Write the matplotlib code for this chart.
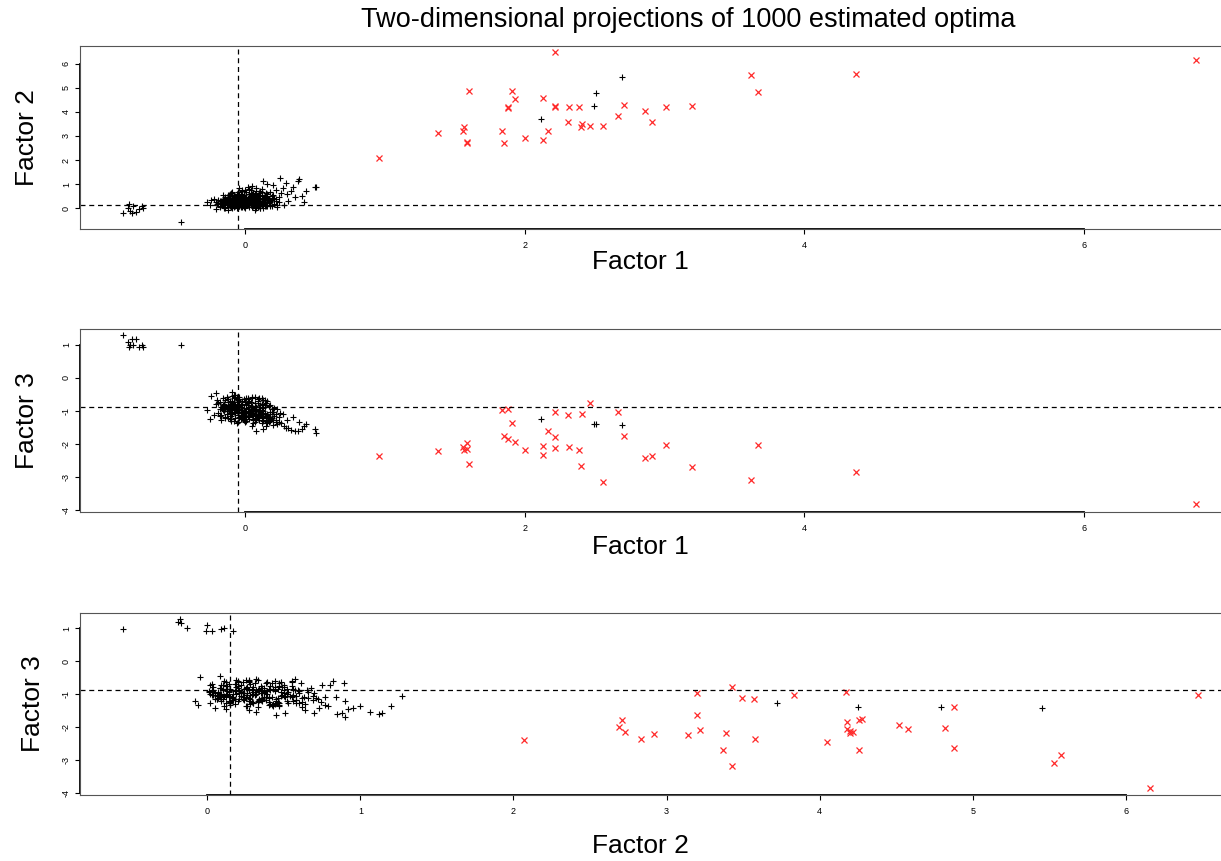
import numpy as np
import matplotlib
matplotlib.use("Agg")
import matplotlib.pyplot as plt

plt.rcParams['font.family'] = ['Liberation Sans', 'DejaVu Sans']

# reference optimum (dashed lines)
optimum = [-0.05, 0.15, -0.87]

# red "x" points: estimated optima far from the reference (factor 1, 2, 3)
red_f1 = [0.96, 2.22, 6.80, 4.37, 3.62, 3.67, 1.60, 1.91, 1.93, 1.88, 1.88, 2.13,
          2.22, 2.22, 2.32, 2.39, 2.71, 2.67, 2.86, 2.91, 3.01, 3.20, 1.38, 1.57,
          1.56, 1.59, 1.59, 1.84, 1.85, 2.00, 2.13, 2.17, 2.31, 2.41, 2.40, 2.47, 2.56]
red_f2 = [2.07, 6.47, 6.16, 5.58, 5.53, 4.82, 4.88, 4.88, 4.52, 4.17, 4.18, 4.58,
          4.26, 4.22, 4.20, 4.20, 4.28, 3.83, 4.05, 3.58, 4.18, 4.26, 3.14, 3.39,
          3.22, 2.73, 2.69, 3.20, 2.71, 2.92, 2.83, 3.20, 3.57, 3.49, 3.37, 3.43, 3.43]
red_f3 = [-2.37, -1.03, -3.83, -2.85, -3.09, -2.03, -2.62, -1.38, -1.94, -0.93, -1.85, -2.06,
          -1.79, -2.13, -2.10, -2.18, -1.76, -1.03, -2.43, -2.35, -2.04, -2.70, -2.22, -2.17,
          -2.08, -2.14, -1.98, -0.97, -1.77, -2.19, -2.34, -1.62, -1.13, -1.10, -2.68, -0.77, -3.16]

# black "+" points away from the main cluster
far_f1 = [2.12, 2.51, 2.50, 2.70, -0.87, -0.78, -0.46, -0.83, -0.84, -0.80, -0.74, -0.73, -0.82, -0.76, -0.81]
far_f2 = [3.72, 4.79, 4.25, 5.45, -0.18, -0.17, -0.55, 0.17, 0.00, 0.09, 0.11, 0.03, -0.13, -0.01, -0.19]
far_f3 = [-1.25, -1.39, -1.39, -1.42, 1.30, 1.17, 0.99, 0.92, 1.10, 0.99, 1.01, 0.93, 1.00, 0.92, 1.19]

# main cluster around the reference optimum
clu_f1 = [-0.05, 0.02, -0.11, 0.08, -0.02, 0.12, -0.15, 0.04, -0.08, 0.15, -0.01, 0.06, -0.18, 0.10,
          -0.04, 0.03, -0.12, 0.18, 0.00, -0.07, 0.07, -0.20, 0.13, -0.03, 0.05, -0.09, 0.11, -0.14,
          0.01, 0.09, -0.06, 0.16, -0.10, 0.04, -0.02, 0.20, -0.16, 0.07, -0.05, 0.14, -0.08, 0.02,
          -0.13, 0.10, -0.01, 0.06, -0.19, 0.17, -0.04, 0.03, -0.11, 0.12, -0.07, 0.08, -0.03, 0.22,
          -0.17, 0.05, -0.09, 0.01, 0.13, -0.06, 0.09, -0.14, 0.04, -0.02, 0.11, -0.10, 0.07, -0.05,
          0.19, -0.21, 0.00, 0.14, -0.08, 0.06, -0.12, 0.03, -0.03, 0.10, -0.15, 0.16, -0.01, 0.08,
          -0.06, 0.02, -0.09, 0.12, -0.04, 0.05, -0.13, 0.21, -0.07, 0.09, -0.02, 0.15, -0.18, 0.06,
          -0.05, 0.01, 0.11, -0.10, 0.04, -0.01, 0.18, -0.11, 0.07, -0.03, 0.13, -0.08,
          0.25, 0.13, 0.38, 0.39, 0.51, 0.50, 0.44, 0.42, 0.41, 0.31, 0.29, 0.34, 0.16, 0.08,
          0.05, 0.26, 0.22, 0.30, 0.36, 0.20, 0.18, 0.27, 0.12, 0.33, -0.25, -0.27, -0.21, -0.09,
          -0.24, -0.16, -0.04, 0.02, -0.12, 0.07, 0.23, 0.28, -0.22, 0.24, 0.00, 0.15,
          -0.14, 0.09, -0.03, 0.17, -0.07, 0.01, -0.19, 0.12, -0.10, 0.05, 0.23, -0.02,
          0.08, -0.12, 0.14, -0.05, 0.03, -0.17, 0.19, -0.08, 0.06, -0.01, 0.11, -0.15,
          -0.06, 0.16, -0.11, 0.04, 0.21, -0.09, 0.00, 0.13, -0.16, 0.07, -0.04, 0.10,
          0.02, -0.13, 0.18, -0.07, 0.09, -0.02, 0.15, -0.18, 0.05, -0.10, 0.12, -0.04,
          0.07, -0.14, 0.01, 0.20, -0.06, 0.11, -0.09, 0.04, 0.16, -0.01, 0.09, -0.12,
          0.03, -0.08, 0.14, -0.03, 0.24, -0.16, 0.06, -0.05, 0.10, 0.00, -0.11, 0.18,
          -0.07, 0.05, 0.13, -0.13, 0.02, 0.08, -0.03, 0.17, -0.09, 0.12, -0.02, 0.06,
          -0.15, 0.10, -0.06, 0.01, 0.14, -0.10, 0.07, -0.01, 0.19, -0.04, 0.04, -0.08,
          0.11, -0.02, 0.15, -0.12, 0.03, 0.09, -0.05, 0.13, -0.17, 0.00, 0.22, -0.07,
          0.05, -0.09, 0.16, -0.04, 0.08, -0.14, 0.12, -0.01, 0.02, 0.18, -0.06, 0.10]
clu_f2 = [0.22, 0.31, 0.15, 0.40, 0.05, 0.28, 0.26, 0.52, 0.33, 0.45, 0.18, 0.11, 0.09, 0.62,
          0.41, 0.24, 0.37, 0.33, 0.02, 0.13, 0.35, 0.19, 0.16, 0.56, 0.07, 0.44, 0.49, 0.03,
          0.66, 0.21, 0.29, 0.58, 0.23, 0.14, 0.38, 0.41, 0.12, 0.27, 0.47, 0.08, 0.06, 0.43,
          0.31, 0.32, 0.25, 0.54, 0.35, 0.20, 0.10, 0.36, 0.50, 0.13, 0.39, 0.04, 0.17, 0.30,
          0.21, 0.46, 0.16, 0.30, 0.38, 0.60, 0.15, 0.42, 0.26, 0.08, 0.71, 0.28, 0.19, 0.34,
          0.52, 0.25, 0.48, 0.25, 0.20, 0.37, 0.07, 0.58, 0.32, 0.09, 0.40, 0.36, 0.12, 0.45,
          0.01, 0.19, 0.53, 0.26, 0.27, 0.32, 0.17, 0.18, 0.46, 0.55, 0.22, 0.12, 0.30, 0.23,
          0.14, 0.39, 0.03, 0.36, 0.63, 0.45, 0.27, 0.10, 0.50, 0.04, 0.44, 0.27,
          1.27, 1.14, 1.12, 1.20, 0.90, 0.88, 0.73, 0.27, 0.51, 0.32, 1.06, 0.90, 1.00, 0.85,
          0.92, 0.62, 0.77, 0.58, 0.45, 0.95, 0.69, 0.84, 0.79, 0.70, 0.15, 0.24, -0.05, 0.08,
          0.33, 0.55, 0.82, 0.89, -0.08, -0.06, 0.05, 0.12, 0.40, 0.47, 0.75, 0.64,
          0.34, 0.18, 0.60, 0.29, 0.11, 0.47, 0.22, 0.68, 0.05, 0.39, 0.14, 0.74,
          0.02, 0.48, 0.35, 0.26, 0.80, 0.16, 0.09, 0.57, 0.43, 0.31, 0.24, 0.05,
          0.19, 0.51, 0.40, 0.12, 0.37, 0.66, 0.28, 0.03, 0.21, 0.59, 0.09, 0.44,
          0.35, 0.27, 0.15, 0.50, 0.23, 0.70, 0.41, 0.06, 0.13, 0.62, 0.30, 0.38,
          0.49, 0.14, 0.20, 0.56, 0.33, 0.01, 0.25, 0.77, 0.10, 0.53, 0.36, 0.44,
          0.07, 0.42, 0.47, 0.17, 0.24, 0.34, 0.64, 0.28, 0.19, 0.11, 0.58, 0.08,
          0.46, 0.55, 0.31, 0.23, 0.13, 0.72, 0.36, 0.40, 0.02, 0.20, 0.50, 0.29,
          0.03, 0.15, 0.61, 0.33, 0.52, 0.18, 0.27, 0.06, 0.37, 0.57, 0.22, 0.12,
          0.42, 0.26, 0.10, 0.55, 0.47, 0.04, 0.69, 0.21, 0.30, 0.16, 0.37, 0.32,
          0.60, 0.09, 0.25, 0.14, 0.34, 0.48, 0.56, 0.43, 0.27, 0.12, 0.20, 0.65]
clu_f3 = [-0.93, -1.02, -0.84, -1.08, -0.97, -1.15, -0.78, -0.99, -0.88, -1.20, -0.91, -1.05, -0.72, -1.12,
          -0.86, -0.95, -0.81, -1.24, -1.00, -0.90, -0.97, -0.68, -1.18, -0.83, -1.10, -0.77, -1.03, -0.87,
          -0.94, -1.13, -1.01, -1.16, -0.96, -0.89, -1.07, -1.28, -0.83, -1.21, -0.74, -1.09, -1.04, -0.82,
          -0.92, -0.99, -1.12, -1.06, -0.75, -1.19, -0.85, -1.14, -0.70, -1.00, -0.98, -0.93, -1.16, -1.26,
          -0.89, -1.11, -1.08, -0.78, -1.17, -0.90, -1.22, -0.66, -1.03, -0.81, -1.10, -1.02, -0.88, -1.13,
          -1.21, -0.80, -1.05, -1.07, -0.73, -0.91, -0.95, -1.18, -0.87, -1.14, -0.85, -1.11, -1.09, -1.25,
          -0.92, -0.76, -0.94, -0.96, -1.19, -1.00, -0.99, -1.15, -0.83, -1.08, -0.70, -1.27, -0.93, -1.13,
          -1.06, -0.90, -1.02, -0.79, -1.07, -1.14, -1.10, -0.87, -0.95, -1.03, -1.30, -0.86,
          -1.06, -1.55, -1.60, -1.35, -1.68, -1.56, -1.40, -1.47, -1.55, -1.52, -1.53, -1.19, -1.35, -1.60,
          -1.45, -1.38, -1.33, -1.27, -1.61, -1.42, -1.18, -1.09, -1.36, -1.57, -1.24, -0.97, -0.46, -0.44,
          -0.55, -0.62, -0.58, -0.65, -1.21, -1.33, -1.40, -1.45, -1.12, -1.35, -0.72, -1.46,
          -1.18, -0.69, -1.25, -0.85, -0.58, -1.31, -1.06, -0.79, -1.15, -0.62, -0.94, -1.22,
          -1.27, -0.63, -0.88, -1.34, -0.71, -1.12, -1.02, -0.52, -1.36, -0.65, -0.83, -1.01,
          -0.57, -1.09, -1.23, -0.74, -0.92, -1.10, -1.29, -0.68, -0.96, -0.86, -1.21, -0.60,
          -1.16, -0.58, -1.32, -1.05, -0.63, -0.97, -0.75, -1.14, -0.84, -1.24, -1.00, -0.64,
          -0.77, -1.20, -0.61, -1.03, -1.37, -0.89, -0.55, -1.08, -0.71, -1.26, -1.19, -0.91,
          -0.93, -1.31, -0.66, -1.11, -1.17, -0.85, -1.28, -0.67, -0.98, -1.35, -1.05, -0.81,
          -1.22, -0.59, -0.99, -1.08, -0.74, -1.15, -0.96, -1.33, -0.70, -0.60, -0.78, -1.23,
          -0.90, -1.26, -0.64, -1.19, -0.82, -1.30, -0.57, -1.13, -0.95, -0.88, -1.04, -0.62,
          -1.07, -0.83, -1.14, -0.73, -1.25, -0.76, -1.06, -0.91, -1.27, -1.18, -1.09, -0.53,
          -0.97, -0.98, -1.36, -0.69, -0.89, -0.94, -1.21, -1.28, -0.62, -1.02, -0.80, -0.87]

factors = [(red_f1, far_f1, clu_f1), (red_f2, far_f2, clu_f2), (red_f3, far_f3, clu_f3)]

# panels: (x factor, y factor, x label, y label, xlim, ylim, xticks, yticks)
panels = [
    (0, 1, "Factor 1", "Factor 2", (-1.18, 7.11), (-0.86, 6.73), [0, 2, 4, 6], [0, 1, 2, 3, 4, 5, 6]),
    (0, 2, "Factor 1", "Factor 3", (-1.18, 7.11), (-4.06, 1.48), [0, 2, 4, 6], [-4, -3, -2, -1, 0, 1]),
    (1, 2, "Factor 2", "Factor 3", (-0.832, 6.74), (-4.05, 1.47), [0, 1, 2, 3, 4, 5, 6], [-4, -3, -2, -1, 0, 1]),
]
# axes boxes in pixels (top, bottom) and label positions
W, H = 1221, 861
boxes = [(46, 229), (329, 512), (613, 795)]
xlab_y = [262, 547, 846]
ylab_x = [27, 27, 33]

fig = plt.figure(figsize=(W / 100, H / 100), dpi=100)

for (xi, yi, xl, yl, xlim, ylim, xt, yt), (top, bot), xly, ylx in zip(panels, boxes, xlab_y, ylab_x):
    left = 80
    width = 1159
    ax = fig.add_axes([left / W, 1 - bot / H, width / W, (bot - top) / H])
    ax.plot(factors[xi][2], factors[yi][2], '+', color='black', ms=4.5, mew=0.8)
    ax.plot(factors[xi][1], factors[yi][1], '+', color='black', ms=4.5, mew=0.8)
    ax.plot(factors[xi][0], factors[yi][0], 'x', color='#ff2a2a', ms=5, mew=0.9)
    ax.axvline(optimum[xi], color='black', lw=0.9, ls=(0, (4, 3)))
    ax.axhline(optimum[yi], color='black', lw=0.9, ls=(0, (4, 3)))
    ax.set_xlim(xlim)
    ax.set_ylim(ylim)
    ax.set_xticks(xt)
    ax.set_yticks(yt)
    ax.set_yticklabels([str(v) for v in yt], rotation=90, va='center')
    ax.tick_params(labelsize=6.5, length=3.5, width=0.8, direction='out', pad=3)
    ax.tick_params(axis='x', pad=5)
    for s in ax.spines.values():
        s.set_linewidth(0.8)
        s.set_color('#555555')
    # R style axis lines spanning first to last tick
    ax.plot([xt[0], xt[-1]], [0, 0], transform=ax.get_xaxis_transform(),
            color='black', lw=1.3, clip_on=False)
    ax.plot([0, 0], [yt[0], yt[-1]], transform=ax.get_yaxis_transform(),
            color='black', lw=1.3, clip_on=False)
    fig.text(640 / W, 1 - xly / H, xl, ha='center', va='center', fontsize=19)
    fig.text(ylx / W, 1 - (top + bot) / 2 / H, yl, ha='center', va='center',
             rotation=90, fontsize=19)

fig.text(688 / W, 1 - 20 / H, "Two-dimensional projections of 1000 estimated optima",
         ha='center', va='center', fontsize=19.5)

fig.savefig("out.png", dpi=100)
